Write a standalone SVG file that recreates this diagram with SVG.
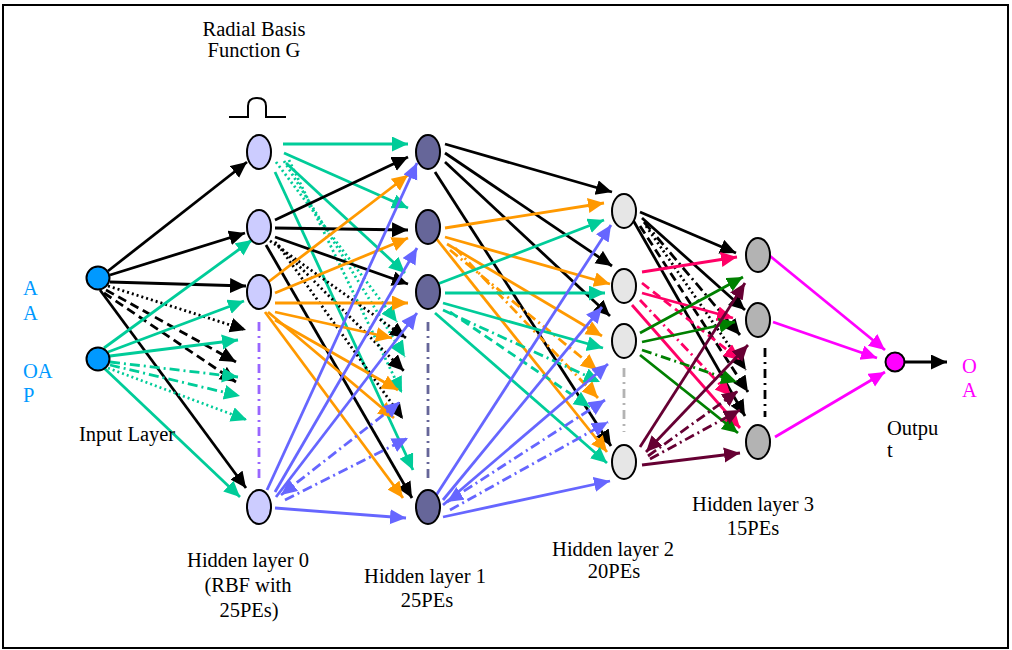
<svg xmlns="http://www.w3.org/2000/svg" width="1012" height="650" viewBox="0 0 1012 650">
<style>
  .c line{fill:none;stroke-width:2.8}
  .k{stroke:#000;marker-end:url(#mk)}
  .t{stroke:#00CC99;marker-end:url(#mt)}
  .o{stroke:#FF9900;marker-end:url(#mo)}
  .b{stroke:#6666FF;marker-end:url(#mb)}
  .p{stroke:#FF0066;marker-end:url(#mp)}
  .g{stroke:#008000;marker-end:url(#mg)}
  .m{stroke:#660033;marker-end:url(#mm)}
  .f{stroke:#FF00FF;marker-end:url(#mf)}
  .dot{stroke-dasharray:2 3}
  .dsh{stroke-dasharray:9 5}
  .dd{stroke-dasharray:10 4 2 4}
  .col{fill:none;stroke-width:2.8;stroke-dasharray:9 5 2 5}
  .node{stroke:#000;stroke-width:2}
  .l0{fill:#CCCCFF}.l1{fill:#666699}.l2{fill:#E6E6E6}.l3{fill:#B3B3B3}
  text{font-family:"Liberation Serif","Times New Roman",serif;font-size:20.5px;fill:#000}
  .mid{text-anchor:middle}
  .blue{fill:#0099FF}.mag{fill:#FF00FF}
</style>
<defs>
  <path id="head" d="M0,0L16,7.5L0,15z"/>
  <marker id="mk" markerUnits="userSpaceOnUse" markerWidth="17" markerHeight="16" refX="16" refY="7.5" orient="auto-start-reverse"><use href="#head" fill="#000"/></marker>
  <marker id="mt" markerUnits="userSpaceOnUse" markerWidth="17" markerHeight="16" refX="16" refY="7.5" orient="auto-start-reverse"><use href="#head" fill="#00CC99"/></marker>
  <marker id="mo" markerUnits="userSpaceOnUse" markerWidth="17" markerHeight="16" refX="16" refY="7.5" orient="auto-start-reverse"><use href="#head" fill="#FF9900"/></marker>
  <marker id="mb" markerUnits="userSpaceOnUse" markerWidth="17" markerHeight="16" refX="16" refY="7.5" orient="auto-start-reverse"><use href="#head" fill="#6666FF"/></marker>
  <marker id="mp" markerUnits="userSpaceOnUse" markerWidth="17" markerHeight="16" refX="16" refY="7.5" orient="auto-start-reverse"><use href="#head" fill="#FF0066"/></marker>
  <marker id="mg" markerUnits="userSpaceOnUse" markerWidth="17" markerHeight="16" refX="16" refY="7.5" orient="auto-start-reverse"><use href="#head" fill="#008000"/></marker>
  <marker id="mm" markerUnits="userSpaceOnUse" markerWidth="17" markerHeight="16" refX="16" refY="7.5" orient="auto-start-reverse"><use href="#head" fill="#660033"/></marker>
  <marker id="mf" markerUnits="userSpaceOnUse" markerWidth="17" markerHeight="16" refX="16" refY="7.5" orient="auto-start-reverse"><use href="#head" fill="#FF00FF"/></marker>
</defs>

<!-- frame -->
<rect x="3" y="5" width="1005" height="643" fill="#fff" stroke="#000" stroke-width="2"/>

<!-- connectors -->
<g id="connectors" class="c">
  <!-- input 1 -> hidden layer 0 -->
  <line class="k" x1="108" y1="271" x2="247" y2="162"/>
  <line class="k" x1="110" y1="275" x2="245" y2="233"/>
  <line class="k" x1="110" y1="282" x2="246" y2="286"/>
  <line class="k dot" x1="108" y1="286" x2="246" y2="330"/>
  <line class="k dsh" x1="106" y1="290" x2="236" y2="362"/>
  <line class="k dsh" x1="104" y1="293" x2="236" y2="382"/>
  <line class="k" x1="100" y1="290" x2="246" y2="488"/>
  <!-- input 2 -> hidden layer 0 -->
  <line class="t" x1="104" y1="348" x2="252" y2="240"/>
  <line class="t" x1="108" y1="352" x2="244" y2="301"/>
  <line class="t" x1="110" y1="356" x2="238" y2="340"/>
  <line class="t dd" x1="110" y1="362" x2="238" y2="377"/>
  <line class="t dd" x1="110" y1="365" x2="240" y2="396"/>
  <line class="t dot" x1="108" y1="368" x2="247" y2="420"/>
  <line class="t" x1="104" y1="368" x2="240" y2="497"/>

  <!-- hidden 0 node 1 -->
  <line class="t" x1="283" y1="144" x2="408" y2="144"/>
  <line class="t" x1="284" y1="153" x2="408" y2="208"/>
  <line class="t" x1="286" y1="163" x2="405" y2="273"/>
  <line class="t dot" x1="276" y1="162" x2="397" y2="322"/>
  <line class="t dot" x1="284" y1="161" x2="405" y2="357"/>
  <line class="t dot" x1="289" y1="160" x2="402" y2="393"/>
  <line class="t" x1="275" y1="172" x2="413" y2="470"/>
  <!-- hidden 0 node 2 -->
  <line class="k" x1="275" y1="220" x2="408" y2="157"/>
  <line class="k" x1="275" y1="228" x2="408" y2="230"/>
  <line class="k" x1="275" y1="237" x2="408" y2="284"/>
  <line class="k dot" x1="266" y1="238" x2="406" y2="338"/>
  <line class="k dot" x1="275" y1="242" x2="404" y2="371"/>
  <line class="k dot" x1="278" y1="245" x2="403" y2="419"/>
  <line class="k" x1="266" y1="245" x2="412" y2="498"/>
  <!-- hidden 0 node 3 -->
  <line class="o" x1="267" y1="283" x2="408" y2="175"/>
  <line class="o" x1="275" y1="293" x2="408" y2="238"/>
  <line class="o" x1="275" y1="303" x2="408" y2="303"/>
  <line class="o" x1="275" y1="312" x2="392" y2="338"/>
  <line class="o" x1="275" y1="320" x2="398" y2="390"/>
  <line class="o" x1="268" y1="312" x2="394" y2="418"/>
  <line class="o" x1="265" y1="312" x2="403" y2="498"/>
  <!-- hidden 0 last node -->
  <line class="b" x1="267" y1="490" x2="417" y2="163"/>
  <line class="b" x1="275" y1="492" x2="417" y2="248"/>
  <line class="b" x1="276" y1="497" x2="417" y2="313"/>
  <line class="b dd" x1="281" y1="495" x2="400" y2="402" marker-start="url(#mb)"/>
  <line class="b dd" x1="285" y1="500" x2="408" y2="438"/>
  <line class="b" x1="275" y1="508" x2="406" y2="518"/>

  <!-- hidden 1 node 1 -->
  <line class="k" x1="445" y1="144" x2="612" y2="192"/>
  <line class="k" x1="445" y1="153" x2="612" y2="266"/>
  <line class="k" x1="445" y1="162" x2="610" y2="316"/>
  <line class="k" x1="435" y1="172" x2="611" y2="446"/>
  <!-- hidden 1 node 2 -->
  <line class="o" x1="445" y1="228" x2="604" y2="203"/>
  <line class="o" x1="445" y1="237" x2="610" y2="284"/>
  <line class="o" x1="447" y1="244" x2="602" y2="336"/>
  <line class="o dd" x1="450" y1="250" x2="597" y2="370"/>
  <line class="o dd" x1="455" y1="248" x2="598" y2="398"/>
  <line class="o" x1="435" y1="237" x2="607" y2="452"/>
  <!-- hidden 1 node 3 -->
  <line class="t" x1="435" y1="285" x2="604" y2="220"/>
  <line class="t" x1="445" y1="293" x2="605" y2="293"/>
  <line class="t" x1="443" y1="303" x2="603" y2="348"/>
  <line class="t dd" x1="443" y1="310" x2="600" y2="382"/>
  <line class="t dsh" x1="450" y1="312" x2="590" y2="407"/>
  <line class="t" x1="435" y1="313" x2="607" y2="463"/>
  <!-- hidden 1 last node -->
  <line class="b" x1="435" y1="497" x2="611" y2="225"/>
  <line class="b" x1="443" y1="500" x2="602" y2="307"/>
  <line class="b" x1="443" y1="505" x2="608" y2="364"/>
  <line class="b dd" x1="447" y1="502" x2="605" y2="400" marker-start="url(#mb)"/>
  <line class="b dd" x1="450" y1="510" x2="608" y2="422"/>
  <line class="b" x1="443" y1="517" x2="610" y2="481"/>

  <!-- hidden 2 node 1 -->
  <line class="k" x1="640" y1="212" x2="736" y2="253"/>
  <line class="k" x1="642" y1="218" x2="745" y2="310"/>
  <line class="k dd" x1="644" y1="222" x2="740" y2="335"/>
  <line class="k dot" x1="646" y1="226" x2="746" y2="370"/>
  <line class="k dsh" x1="640" y1="226" x2="748" y2="392"/>
  <line class="k" x1="633" y1="220" x2="745" y2="416"/>
  <!-- hidden 2 node 2 -->
  <line class="p" x1="642" y1="272" x2="737" y2="257"/>
  <line class="p dsh" x1="642" y1="283" x2="740" y2="360"/>
  <line class="p" x1="642" y1="293" x2="733" y2="318"/>
  <line class="p dd" x1="640" y1="300" x2="731" y2="396"/>
  <line class="p" x1="632" y1="305" x2="740" y2="428"/>
  <!-- hidden 2 node 3 -->
  <line class="g" x1="640" y1="333" x2="743" y2="277"/>
  <line class="g" x1="642" y1="342" x2="735" y2="322"/>
  <line class="g dd" x1="642" y1="350" x2="737" y2="382"/>
  <line class="g" x1="640" y1="355" x2="738" y2="433"/>
  <!-- hidden 2 last node -->
  <line class="m" x1="640" y1="447" x2="745" y2="283"/>
  <line class="m" x1="646" y1="452" x2="748" y2="345" marker-start="url(#mm)"/>
  <line class="m dd" x1="648" y1="456" x2="738" y2="391"/>
  <line class="m dd" x1="650" y1="459" x2="740" y2="410"/>
  <line class="m" x1="642" y1="465" x2="740" y2="453"/>

  <!-- hidden 3 -> output -->
  <line class="f" x1="770" y1="256" x2="885" y2="350"/>
  <line class="f" x1="773" y1="322" x2="877" y2="358"/>
  <line class="f" x1="775" y1="437" x2="885" y2="372"/>
  <line class="k" x1="904" y1="362" x2="947" y2="362"/>
</g>

<!-- elided units in each column -->
<line class="col" x1="259" y1="322" x2="259" y2="482" stroke="#9966FF"/>
<line class="col" x1="428" y1="322" x2="428" y2="482" stroke="#666699"/>
<line class="col" x1="624" y1="368" x2="624" y2="432" stroke="#B3B3B3"/>
<line class="col" x1="765" y1="348" x2="765" y2="417" stroke="#000" stroke-width="3"/>

<!-- input layer -->
<g id="input-1"><circle class="node" cx="98" cy="278" r="11.5" fill="#0099FF"/></g>
<g id="input-2"><circle class="node" cx="98" cy="359" r="11.5" fill="#0099FF"/></g>

<!-- hidden layer 0 (RBF) -->
<g id="h0-1"><ellipse class="node l0" cx="259" cy="152" rx="12" ry="17"/></g>
<g id="h0-2"><ellipse class="node l0" cx="259" cy="227" rx="12" ry="17"/></g>
<g id="h0-3"><ellipse class="node l0" cx="259" cy="292" rx="12" ry="17"/></g>
<g id="h0-25"><ellipse class="node l0" cx="259" cy="507" rx="12" ry="17"/></g>

<!-- hidden layer 1 -->
<g id="h1-1"><ellipse class="node l1" cx="428" cy="152" rx="12" ry="17"/></g>
<g id="h1-2"><ellipse class="node l1" cx="428" cy="227" rx="12" ry="17"/></g>
<g id="h1-3"><ellipse class="node l1" cx="428" cy="292" rx="12" ry="17"/></g>
<g id="h1-25"><ellipse class="node l1" cx="428" cy="507" rx="12" ry="17"/></g>

<!-- hidden layer 2 -->
<g id="h2-1"><ellipse class="node l2" cx="624" cy="211" rx="12" ry="17"/></g>
<g id="h2-2"><ellipse class="node l2" cx="624" cy="286" rx="12" ry="17"/></g>
<g id="h2-3"><ellipse class="node l2" cx="624" cy="341" rx="12" ry="17"/></g>
<g id="h2-20"><ellipse class="node l2" cx="624" cy="462" rx="12" ry="17"/></g>

<!-- hidden layer 3 -->
<g id="h3-1"><ellipse class="node l3" cx="758" cy="255" rx="12" ry="17"/></g>
<g id="h3-2"><ellipse class="node l3" cx="758" cy="320" rx="12" ry="17"/></g>
<g id="h3-15"><ellipse class="node l3" cx="758" cy="442" rx="12" ry="17"/></g>

<!-- output -->
<g id="output"><circle class="node" cx="895" cy="362" r="9.5" fill="#FF00FF"/></g>

<!-- radial basis pulse -->
<g id="rbf-icon"><path d="M229,117H248V106Q248,98 257,98Q266,98 266,106V117H286" fill="none" stroke="#000" stroke-width="2"/></g>

<!-- labels -->
<text class="mid" x="254" y="36">Radial Basis</text>
<text class="mid" x="254" y="57">Function G</text>
<text class="blue" x="23" y="295">A</text>
<text class="blue" x="23" y="320">A</text>
<text class="blue" x="23" y="378">OA</text>
<text class="blue" x="23" y="402">P</text>
<text x="79" y="441">Input Layer</text>
<text class="mid" x="248" y="567">Hidden layer 0</text>
<text class="mid" x="248" y="592">(RBF with</text>
<text class="mid" x="249" y="617">25PEs)</text>
<text class="mid" x="425" y="583">Hidden layer 1</text>
<text class="mid" x="427" y="607">25PEs</text>
<text class="mid" x="613" y="556">Hidden layer 2</text>
<text class="mid" x="614" y="578">20PEs</text>
<text class="mid" x="753" y="511">Hidden layer 3</text>
<text class="mid" x="753" y="535">15PEs</text>
<text x="887" y="435">Outpu</text>
<text x="887" y="457">t</text>
<text class="mag" x="962" y="373">O</text>
<text class="mag" x="962" y="397">A</text>
</svg>
